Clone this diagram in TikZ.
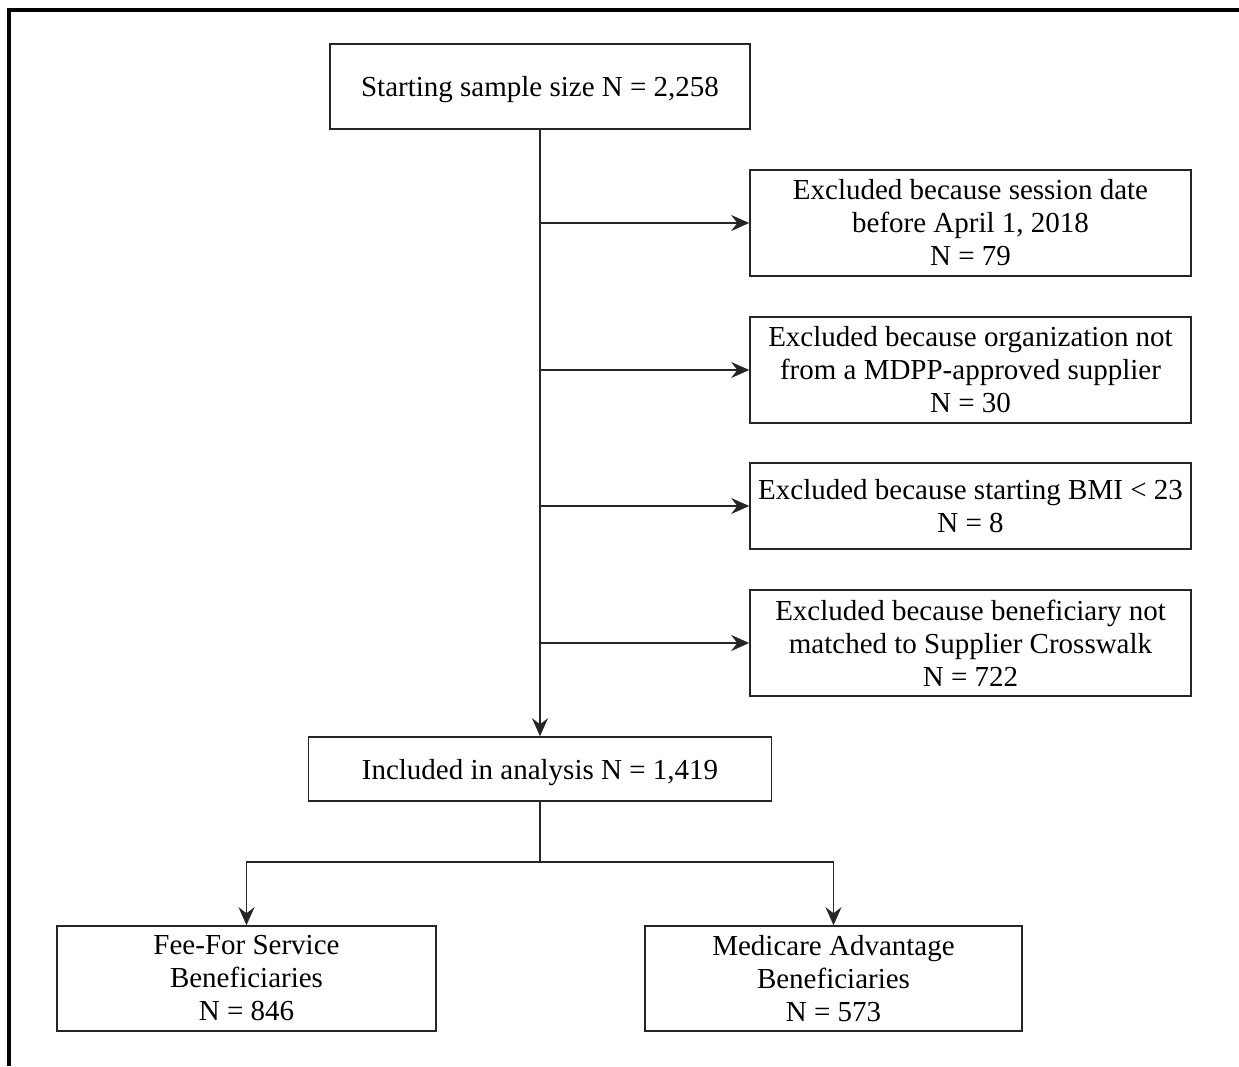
\documentclass[tikz,border=0pt]{standalone}
\usepackage{fontspec}
\setmainfont{Liberation Serif}
\usetikzlibrary{arrows.meta}
\begin{document}
\begin{tikzpicture}[x=1pt,y=-1pt,
  box/.style={draw=black!85,line width=1.6pt,inner sep=0pt,align=center,
    font=\fontsize{29}{33}\selectfont},
  conn/.style={draw=black!85,line width=1.6pt},
  arr/.style={conn,-{Stealth[length=18pt,width=16pt,inset=6pt]}}]
\useasboundingbox[fill=white] (0,0) rectangle (1239,1066);
\draw[line width=4.5pt] (9,1066) -- (9,10) -- (1239,10);
\node[box,minimum width=420pt,minimum height=85pt,text height=24pt,text depth=4pt] (start) at (540,86.5) {Starting sample size N = 2,258};
\node[box,minimum width=441pt,minimum height=106pt] (e1) at (970.5,223) {Excluded because session date\\before April 1, 2018\\N = 79};
\node[box,minimum width=441pt,minimum height=106pt] (e2) at (970.5,370) {Excluded because organization not\\from a MDPP-approved supplier\\N = 30};
\node[box,minimum width=441pt,minimum height=86pt] (e3) at (970.5,506) {Excluded because starting BMI < 23\\N = 8};
\node[box,minimum width=441pt,minimum height=106pt] (e4) at (970.5,643) {Excluded because beneficiary not\\matched to Supplier Crosswalk\\N = 722};
\node[box,minimum width=463pt,minimum height=64pt,text height=24pt,text depth=4pt] (inc) at (540,769) {Included in analysis N = 1,419};
\node[box,minimum width=379pt,minimum height=105pt] (ffs) at (246.5,978.5) {Fee-For Service\\Beneficiaries\\N = 846};
\node[box,minimum width=377pt,minimum height=105pt] (ma) at (833.5,978.5) {Medicare Advantage\\Beneficiaries\\N = 573};
\coordinate (b1) at (540,223);
\coordinate (b2) at (540,370);
\coordinate (b3) at (540,506);
\coordinate (b4) at (540,643);
\coordinate (split) at (540,862);
\draw[arr] (start.south -| inc.north) -- (inc.north -| start.south);
\draw[arr] (b1) -- (e1.west);
\draw[arr] (b2) -- (e2.west);
\draw[arr] (b3) -- (e3.west);
\draw[arr] (b4) -- (e4.west);
\draw[conn] (inc.south -| split) -- (split);
\draw[arr] (split) -| (ffs.north);
\draw[arr] (split) -| (ma.north);
\end{tikzpicture}
\end{document}
